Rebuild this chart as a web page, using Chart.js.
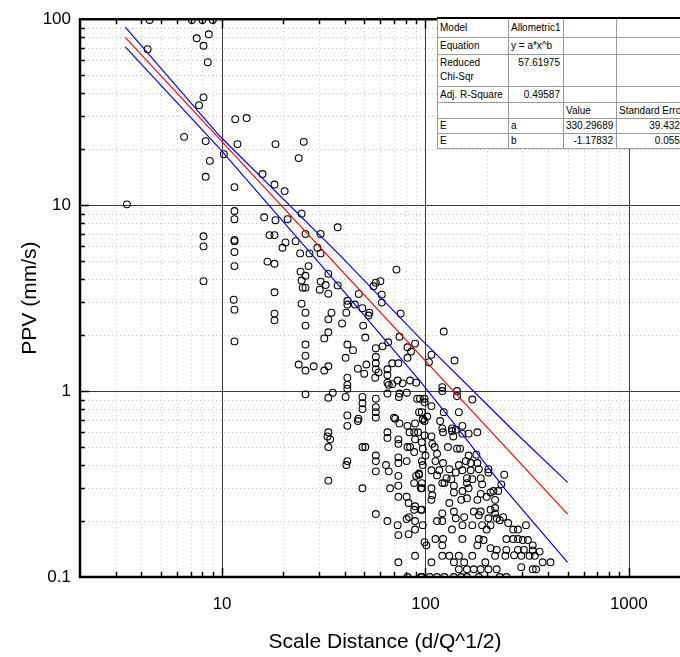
<!DOCTYPE html>
<html lang="en">
<head>
<meta charset="UTF-8">
<title>PPV vs Scale Distance</title>
<style>
  html, body { margin: 0; padding: 0; background: #fff; overflow: hidden; }
  #wrap { position: relative; width: 707px; height: 657px; }
  #chartPPV { display: block; }
  #fit {
    position: absolute; left: 437px; top: 17px;
    border-collapse: collapse; table-layout: fixed; width: 257px;
    background: #fff; color: #000;
    font: 10px "Liberation Sans", Arial, sans-serif;
    border: 1px solid #000; border-top: 2px solid #000;
  }
  #fit td {
    border: 1px solid #999; padding: 0 3px 0 2px; line-height: 11px;
    white-space: nowrap; overflow: hidden; vertical-align: middle;
  }
  #fit td.num { text-align: right; }
  #fit td.top { vertical-align: top; padding-top: 2px; }
  #fit td.two { line-height: 14px; }
</style>
</head>
<body>
<div id="wrap">
  <canvas id="chartPPV" width="707" height="657"></canvas>
  <table id="fit">
    <colgroup><col style="width:71px"><col style="width:55px"><col style="width:53px"><col style="width:78px"></colgroup>
    <tr style="height:19px"><td>Model</td><td>Allometric1</td><td></td><td></td></tr>
    <tr style="height:17px"><td>Equation</td><td>y = a*x^b</td><td></td><td></td></tr>
    <tr style="height:32px"><td class="two">Reduced<br>Chi-Sqr</td><td class="num top">57.61975</td><td></td><td></td></tr>
    <tr style="height:16px"><td>Adj. R-Square</td><td class="num">0.49587</td><td></td><td></td></tr>
    <tr style="height:16px"><td></td><td></td><td>Value</td><td>Standard Error</td></tr>
    <tr style="height:15px"><td>E</td><td>a</td><td class="num">330.29689</td><td class="num">39.43263</td></tr>
    <tr style="height:15px"><td>E</td><td>b</td><td class="num">-1.17832</td><td class="num">0.05533</td></tr>
  </table>
</div>

<script src="https://cdn.jsdelivr.net/npm/chart.js"></script>
<script>
// measured points [scale distance, PPV]
const measured = [
  [3.4,10.1],[4.4,99],[7.1,99],[8.0,99],[9.0,99],
  [4.3,69],[7.5,79],[8.6,83],[8.1,72],[8.5,58.7],[8.1,38],[7.7,34.5],[6.5,23.3],[8.3,22.1],[8.7,17.3],[8.3,14.2],
  [10.2,18.8],[11.6,29],[11.9,21.3],[11.5,12.5],[13.2,29.4],
  [8.1,6.8],[8.1,6.0],[8.1,3.9],
  [11.5,9.3],[11.5,8.4],[11.5,6.5],[11.5,6.4],[11.5,5.6],[11.5,4.7],[11.4,3.1],[11.5,2.74],[11.5,1.85],
  [18.3,21.3],[25.2,21.9],[23.8,17.9],[15.8,14.7],[18.1,12.9],[20.3,11.9],
  [16.1,8.6],[18.3,8.3],[21,8.4],[24.6,9.0],[37,7.6],
  [17.1,6.9],[18.1,6.9],[25.7,7.0],[30.5,7.0],[23,6.4],[20.5,6.3],[19.8,5.9],[29.4,5.9],
  [24.2,5.5],[26.9,5.5],[30.5,5.5],[16.7,4.97],[18.1,4.84],[26.6,4.7],[24.3,4.39],[25.7,4.17],[33.3,4.27],
  [24.6,3.93],[24.9,3.6],[25.7,3.6],[30.5,3.88],[32.3,3.72],[30.2,3.51],[33.3,3.34],[37,3.7],[18.1,3.4],
  [18.1,2.61],[18.1,2.4],[24.6,2.95],[25.7,2.64],[25.7,2.25],[25.7,1.78],[25.7,1.55],[23.8,1.39],[25.7,1.29],[28.2,1.36],[31.8,1.29],[33.3,1.36],
  [25.7,0.96],[35,0.98],[33.3,0.92],[33.3,0.60],[33,0.57],[33.3,0.50],[33.3,0.33],
  [34.5,2.64],[33.3,2.43],[33.3,2.07],[31.8,1.92],
  [72,4.5],[57,3.83],[60,3.9],[55.5,3.66],[61,3.3],[61,2.99],[47,3.33],[41.3,3.06],[45,2.92],[48.9,2.79],[53,2.64],[52.5,2.55],[40.8,2.64],[41.3,2.92],[38.9,2.31],[49.4,2.25],[75.5,2.61],
  [50.6,1.94],[41.3,1.78],[44,1.66],[40.5,1.51],[57,1.7],[61.5,1.74],[65.6,1.83],[74.5,1.96],[81.6,1.72],[88.9,1.8],[85,1.63],[81.6,1.51],[57,1.53],[57,1.41],[68.7,1.41],[73.6,1.41],[51.2,1.39],[46.5,1.32],[50,1.24],[57,1.31],[58.8,1.26],[65,1.31],[65,1.22],[56.6,1.18],[41.3,1.18],[65,1.11],[68.7,1.09],[73,1.14],[77.2,1.1],[84,1.14],[90,1.11],[41.3,1.08],[41.3,1.03],[66,1.08],
  [40.5,0.93],[49,0.93],[57,0.91],[49,0.86],[49,0.8],[65,0.97],[74.5,0.97],[81,0.98],[74,0.93],[91,0.91],[70,0.72],[93,0.77],[41.3,0.74],[46.8,0.71],
  [57,0.82],[57,0.77],[57,0.72],[41.3,0.65],[46.5,0.69],[34,0.55],
  [71,0.71],[74.5,0.67],[81.6,0.65],[83.5,0.6],[88.9,0.67],[88,0.6],[92,0.6],[97,0.7],
  [65,0.6],[65,0.56],[73.6,0.55],[73.6,0.52],[81.6,0.5],[84,0.5],[88.9,0.55],[88,0.47],[97,0.49],
  [49,0.5],[50.6,0.5],[41.3,0.42],[40.8,0.4],[57,0.45],[57,0.42],[57,0.37],[64,0.4],[66,0.37],[73.6,0.44],[73.6,0.41],[80.8,0.42],[73.6,0.35],[90,0.35],[93,0.36],[97,0.4],[88,0.32],[95,0.3],
  [49,0.3],[67,0.3],[73.6,0.31],[73.6,0.27],[80.8,0.27],[82.6,0.25],[88.9,0.24],[88,0.23],[95,0.23],[57,0.218],[65,0.2],[80.8,0.205],[83,0.21],[88.9,0.2],[73,0.19],[73.6,0.168],[82.6,0.17],[88.9,0.18],[99,0.154],[88.9,0.13],[73.6,0.12],[81.6,0.1],[95,0.1],
  [123,2.09],[107,1.57],[104,1.43],[139,1.46],[121,1.05],[121,1.0],[143,1.0],[143,0.94],[170,0.9],[99,0.91],[99,0.87],[107,0.83],[94,0.91],[96,0.77],[123,0.77],[146,0.77],[102,0.73],[97,0.71],[99,0.69],[118,0.69],[152,0.65],[121,0.63],[135,0.63],[141,0.62],[163,0.59],[180,0.6],[137,0.57],
  [99,0.578],[107,0.57],[122,0.6],[135,0.61],[152,0.59],[96,0.53],[108,0.52],[111,0.5],[129,0.5],[143,0.49],[148,0.49],
  [100,0.45],[114,0.46],[163,0.45],[178,0.455],[96,0.42],[112,0.42],[122,0.41],[146,0.4],[158,0.42],[167,0.41],[180,0.41],
  [93,0.355],[107,0.375],[117,0.375],[131,0.38],[141,0.365],[152,0.375],[167,0.375],[183,0.38],[204,0.38],[244,0.355],
  [114,0.352],[121,0.32],[127,0.34],[134,0.336],[160,0.34],[170,0.336],[187,0.34],[204,0.365],
  [96,0.32],[96,0.3],[124,0.32],[138,0.31],[160,0.32],[190,0.315],[236,0.315],
  [107,0.3],[108,0.275],[107,0.26],[138,0.285],[152,0.29],[163,0.3],[187,0.28],[209,0.285],[216,0.29],[228,0.29],
  [131,0.25],[150,0.26],[160,0.265],[180,0.26],[200,0.27],[220,0.26],
  [96,0.23],[121,0.22],[138,0.225],[173,0.225],[187,0.225],[209,0.23],[220,0.235],[220,0.22],
  [114,0.2],[121,0.2],[141,0.207],[155,0.21],[183,0.215],[204,0.207],[224,0.207],[232,0.202],[241,0.21],
  [97,0.19],[135,0.18],[152,0.19],[170,0.19],[190,0.19],[209,0.19],[200,0.18],[255,0.195],[270,0.18],[285,0.18],[312,0.19],
  [112,0.16],[122,0.16],[152,0.16],[183,0.16],[193,0.158],[250,0.16],[270,0.16],[285,0.16],[301,0.158],[319,0.158],[337,0.148],
  [101,0.148],[121,0.148],[180,0.148],[209,0.143],[224,0.14],[250,0.14],[285,0.14],[305,0.14],[337,0.139],[364,0.137],
  [121,0.13],[131,0.13],[146,0.13],[170,0.13],[220,0.13],[247,0.13],[273,0.131],[296,0.13],[325,0.13],[345,0.13],
  [107,0.12],[138,0.12],[155,0.12],[197,0.12],[377,0.12],[412,0.12],
  [146,0.11],[160,0.11],[173,0.11],[187,0.11],[204,0.11],[224,0.11],[296,0.113],[337,0.11],[350,0.11],
  [96,0.1],[105,0.1],[114,0.1],[124,0.1],[138,0.1],[150,0.1],[160,0.1],[183,0.1],[232,0.1],[250,0.1]
];

// fitted curve y = a*x^b and its 95% bands
const fitX = [3.34, 500];
const fitY = [79.8, 0.218];
const upperX = [3.34, 9.7, 37.8, 93.4, 270, 500];
const upperY = [90.6, 23.6, 5.4, 1.94, 0.614, 0.323];
const lowerX = [3.34, 9.7, 37.8, 93.4, 147, 249, 500];
const lowerY = [71.0, 20.2, 3.66, 1.14, 0.614, 0.292, 0.120];

const xTickLabels = [10, 100, 1000];
const yTickLabels = [0.1, 1, 10, 100];

const pairs = (xs, ys) => xs.map((v, i) => ({x: v, y: ys[i]}));
const hasLabel = (list, v) => list.some(t => Math.abs(v - t) / t < 1e-6);

// decade grid: dotted minor lines, solid major lines, inward ticks, frame
const logFrame = {
  id: 'logFrame',
  beforeDatasetsDraw(chart) {
    const {ctx, chartArea: a, scales: {x, y}} = chart;
    const minor = (lo, hi) => {
      const out = [];
      for (let d = 0.01; d <= 1000; d *= 10)
        for (let k = 2; k <= 9; k++) {
          const v = +(k * d).toPrecision(3);
          if (v > lo && v < hi) out.push(v);
        }
      return out;
    };
    ctx.save();
    ctx.lineWidth = 1;
    ctx.strokeStyle = '#c4c4c4';
    ctx.setLineDash([1, 3]);
    minor(2, 2000).forEach(v => {
      const px = Math.round(x.getPixelForValue(v)) + 0.5;
      ctx.beginPath(); ctx.moveTo(px, a.top); ctx.lineTo(px, a.bottom); ctx.stroke();
    });
    minor(0.1, 100).forEach(v => {
      const py = Math.round(y.getPixelForValue(v)) + 0.5;
      ctx.beginPath(); ctx.moveTo(a.left, py); ctx.lineTo(a.right, py); ctx.stroke();
    });
    ctx.setLineDash([]);
    ctx.strokeStyle = '#3a3a3a';
    xTickLabels.forEach(v => {
      const px = Math.round(x.getPixelForValue(v)) + 0.5;
      ctx.beginPath(); ctx.moveTo(px, a.top); ctx.lineTo(px, a.bottom); ctx.stroke();
    });
    [1, 10].forEach(v => {
      const py = Math.round(y.getPixelForValue(v)) + 0.5;
      ctx.beginPath(); ctx.moveTo(a.left, py); ctx.lineTo(a.right, py); ctx.stroke();
    });
    ctx.restore();
  },
  afterDatasetsDraw(chart) {
    const {ctx, chartArea: a, scales: {x, y}} = chart;
    ctx.save();
    ctx.strokeStyle = '#000';
    ctx.lineWidth = 1.5;
    for (let d = 1; d <= 1000; d *= 10)
      for (let k = 1; k <= 9; k++) {
        const v = k * d;
        if (v <= 2 || v >= 2000) continue;
        const len = k === 1 ? 9 : 5;
        const px = Math.round(x.getPixelForValue(v)) + 0.5;
        ctx.beginPath();
        ctx.moveTo(px, a.bottom); ctx.lineTo(px, a.bottom - len);
        ctx.moveTo(px, a.top); ctx.lineTo(px, a.top + len);
        ctx.stroke();
      }
    for (let d = 0.1; d <= 10; d *= 10)
      for (let k = 1; k <= 9; k++) {
        const v = +(k * d).toPrecision(3);
        if (v <= 0.1) continue;
        const len = k === 1 ? 9 : 5;
        const py = Math.round(y.getPixelForValue(v)) + 0.5;
        ctx.beginPath(); ctx.moveTo(a.left, py); ctx.lineTo(a.left + len, py); ctx.stroke();
      }
    ctx.lineWidth = 2.5;
    ctx.beginPath();
    ctx.moveTo(a.right + 5, a.top); ctx.lineTo(a.left, a.top);
    ctx.lineTo(a.left, a.bottom); ctx.lineTo(a.right + 5, a.bottom);
    ctx.stroke();
    ctx.restore();
  }
};

const fontFam = '"Liberation Sans", Arial, sans-serif';

new Chart(document.getElementById('chartPPV').getContext('2d'), {
  type: 'scatter',
  data: {
    datasets: [
      { data: pairs(fitX, fitY), showLine: true, borderColor: '#ff0000', borderWidth: 1.2, pointRadius: 0 },
      { data: pairs(upperX, upperY), showLine: true, borderColor: '#0000ff', borderWidth: 1.2, pointRadius: 0 },
      { data: pairs(lowerX, lowerY), showLine: true, borderColor: '#0000ff', borderWidth: 1.2, pointRadius: 0 },
      {
        data: measured.map(p => ({x: p[0], y: p[1]})),
        pointStyle: 'circle', pointRadius: 3.4, borderWidth: 1.1,
        borderColor: '#000', backgroundColor: 'rgba(0,0,0,0)', clip: 0
      }
    ]
  },
  options: {
    responsive: false,
    animation: false,
    events: [],
    layout: { autoPadding: false, padding: { top: 18, right: 2, left: 0, bottom: 0 } },
    plugins: { legend: { display: false }, tooltip: { enabled: false } },
    scales: {
      x: {
        type: 'logarithmic', min: 2, max: 2000,
        grid: { display: false, drawTicks: false },
        border: { display: false },
        afterFit: s => { s.height = 80; },
        ticks: {
          autoSkip: false, maxRotation: 0, padding: 17, color: '#000',
          font: { family: fontFam, size: 17 },
          callback: v => hasLabel(xTickLabels, v) ? String(v) : ''
        },
        title: {
          display: true, text: 'Scale Distance (d/Q^1/2)', color: '#000',
          font: { family: fontFam, size: 21 }, padding: { top: 0, bottom: 2 }
        }
      },
      y: {
        type: 'logarithmic', min: 0.1, max: 100,
        grid: { display: false, drawTicks: false },
        border: { display: false },
        afterFit: s => { s.width = 80; },
        ticks: {
          autoSkip: false, padding: 9, color: '#000',
          font: { family: fontFam, size: 17 },
          callback: v => hasLabel(yTickLabels, v) ? String(+v.toPrecision(3)) : ''
        },
        title: {
          display: true, text: 'PPV (mm/s)', color: '#000',
          font: { family: fontFam, size: 21 }, padding: { top: 18, bottom: 0 }
        }
      }
    }
  },
  plugins: [logFrame]
});
</script>
</body>
</html>
